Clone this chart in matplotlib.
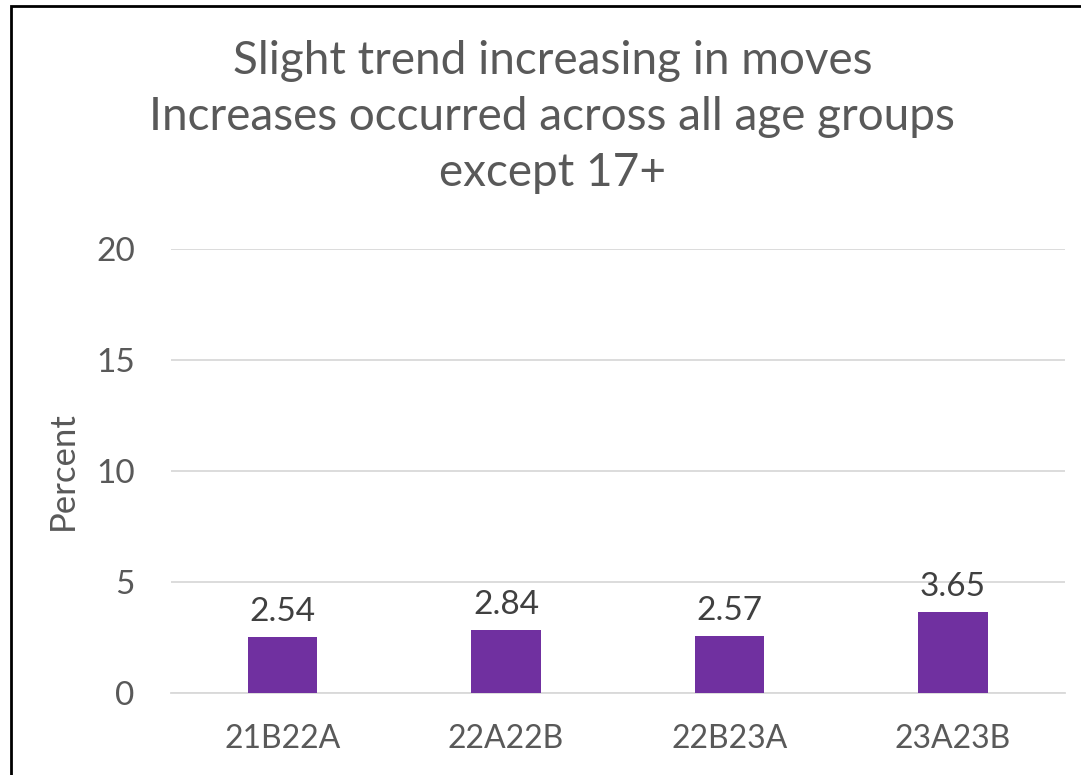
import matplotlib
matplotlib.use("Agg")
import matplotlib.pyplot as plt
from matplotlib.patches import Rectangle

categories = ["21B22A", "22A22B", "22B23A", "23A23B"]
values = [2.54, 2.84, 2.57, 3.65]
yticks = [0, 5, 10, 15, 20]
title = "Slight trend increasing in moves\nIncreases occurred across all age groups\nexcept 17+"

text_color = "#595959"
bar_color = "#7030A0"
grid_color = "#D9D9D9"


def main():
    plt.rcParams['font.family'] = ['Lato', 'DejaVu Sans']
    fig = plt.figure(figsize=(10.81, 7.75), dpi=100)
    ax = fig.add_axes([0.158, 0.1058, 0.827, 0.5729])

    x = range(len(categories))
    bars = ax.bar(x, values, width=0.31, color=bar_color, zorder=3)
    for b, v in zip(bars, values):
        ax.annotate(f"{v:.2f}", (b.get_x() + b.get_width() / 2, v),
                    xytext=(0, 7), textcoords="offset points",
                    ha="center", va="bottom", fontsize=24, color="#404040")

    ax.set_ylim(0, 20)
    ax.set_xlim(-0.5, len(categories) - 0.5)
    ax.set_yticks(yticks)
    ax.set_xticks(list(x))
    ax.set_xticklabels(categories)
    ax.grid(axis="y", color=grid_color, linewidth=1.3, zorder=0)
    for s in ["top", "right", "left"]:
        ax.spines[s].set_visible(False)
    ax.spines["bottom"].set_color(grid_color)
    ax.spines["bottom"].set_linewidth(1.3)
    ax.tick_params(axis="y", length=0, labelsize=24, labelcolor=text_color, pad=26)
    ax.tick_params(axis="x", length=0, labelsize=23, labelcolor=text_color, pad=22)
    ax.set_ylabel("Percent", fontsize=25, color=text_color, labelpad=12)

    fig.text(0.511, 0.949, title, ha="center", va="top", fontsize=33,
             color=text_color, linespacing=1.42)

    fig.patches.append(Rectangle((11 / 1081, -0.1), 1.2, 1.1 - 6 / 775,
                                 transform=fig.transFigure, fill=False,
                                 edgecolor="black", linewidth=2))

    fig.savefig("out.png", dpi=100)


if __name__ == "__main__":
    main()
